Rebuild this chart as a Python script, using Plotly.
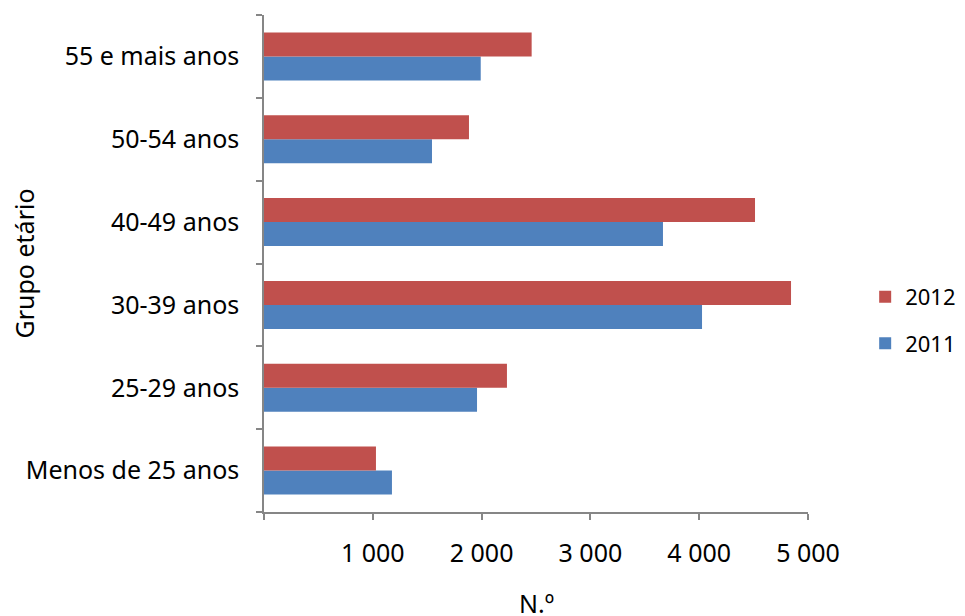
import plotly.graph_objects as go

categories = ["Menos de 25 anos", "25-29 anos", "30-39 anos", "40-49 anos", "50-54 anos", "55 e mais anos"]
values_2011 = [1176, 1958, 4026, 3667, 1544, 1992]
values_2012 = [1029, 2233, 4844, 4513, 1884, 2460]
x_tickvals = [0, 1000, 2000, 3000, 4000, 5000]
x_ticktext = ["", "1 000", "2 000", "3 000", "4 000", "5 000"]

FONT = "Noto Sans"
FS = 25
AXIS_GRAY = "#868686"

# page body has an 8px margin, so the figure is sized/positioned to compensate
W, H = 957, 608
L, R, T, B = 256, 157, 7, 104
PW = W - L - R
PH = H - T - B

fig = go.Figure()
fig.add_trace(go.Bar(y=categories, x=values_2011, name="2011", orientation="h",
                     marker=dict(color="#4F81BD", line=dict(width=0)),
                     legendgroup="a", legendrank=2))
fig.add_trace(go.Bar(y=categories, x=values_2012, name="2012", orientation="h",
                     marker=dict(color="#C0504D", line=dict(width=0)),
                     legendgroup="b", legendrank=1))

fig.update_layout(
    width=W, height=H,
    margin=dict(l=L, r=R, t=T, b=B, pad=0),
    paper_bgcolor="white", plot_bgcolor="white",
    barmode="group", bargap=0.42, bargroupgap=0,
    font=dict(family=FONT, size=FS, color="black"),
    showlegend=True,
    legend=dict(xref="container", x=0.996, y=0.475, xanchor="right", yanchor="top",
                traceorder="grouped", tracegroupgap=15,
                font=dict(family=FONT, size=22, color="black"),
                itemwidth=30, bgcolor="rgba(0,0,0,0)"),
    xaxis=dict(range=[0, 5000], tickvals=x_tickvals, ticktext=x_ticktext,
               showgrid=False, zeroline=False, showline=True, linecolor=AXIS_GRAY,
               linewidth=1.5, ticks="outside", ticklen=6, tickcolor=AXIS_GRAY, tickwidth=1.5,
               ticklabelstandoff=12, tickfont=dict(family=FONT, size=FS, color="black")),
    yaxis=dict(type="category", categoryorder="array", categoryarray=categories,
               showgrid=False, zeroline=False, showline=True, linecolor=AXIS_GRAY,
               linewidth=1.5, ticks="outside", ticklen=6, tickcolor=AXIS_GRAY, tickwidth=1.5,
               tickson="boundaries", ticklabelstandoff=18,
               tickfont=dict(family=FONT, size=FS, color="black")),
    annotations=[
        dict(text="Grupo etário", textangle=-90, xref="paper", yref="paper",
             x=(23 - 264) / PW, y=0.5, xanchor="center", yanchor="middle",
             showarrow=False, font=dict(family=FONT, size=FS, color="black")),
        dict(text="N.º", xref="paper", yref="paper",
             x=0.5, y=(512 - 603) / PH, xanchor="center", yanchor="middle",
             showarrow=False, font=dict(family=FONT, size=FS, color="black")),
    ],
)

fig.write_html("out.html")
